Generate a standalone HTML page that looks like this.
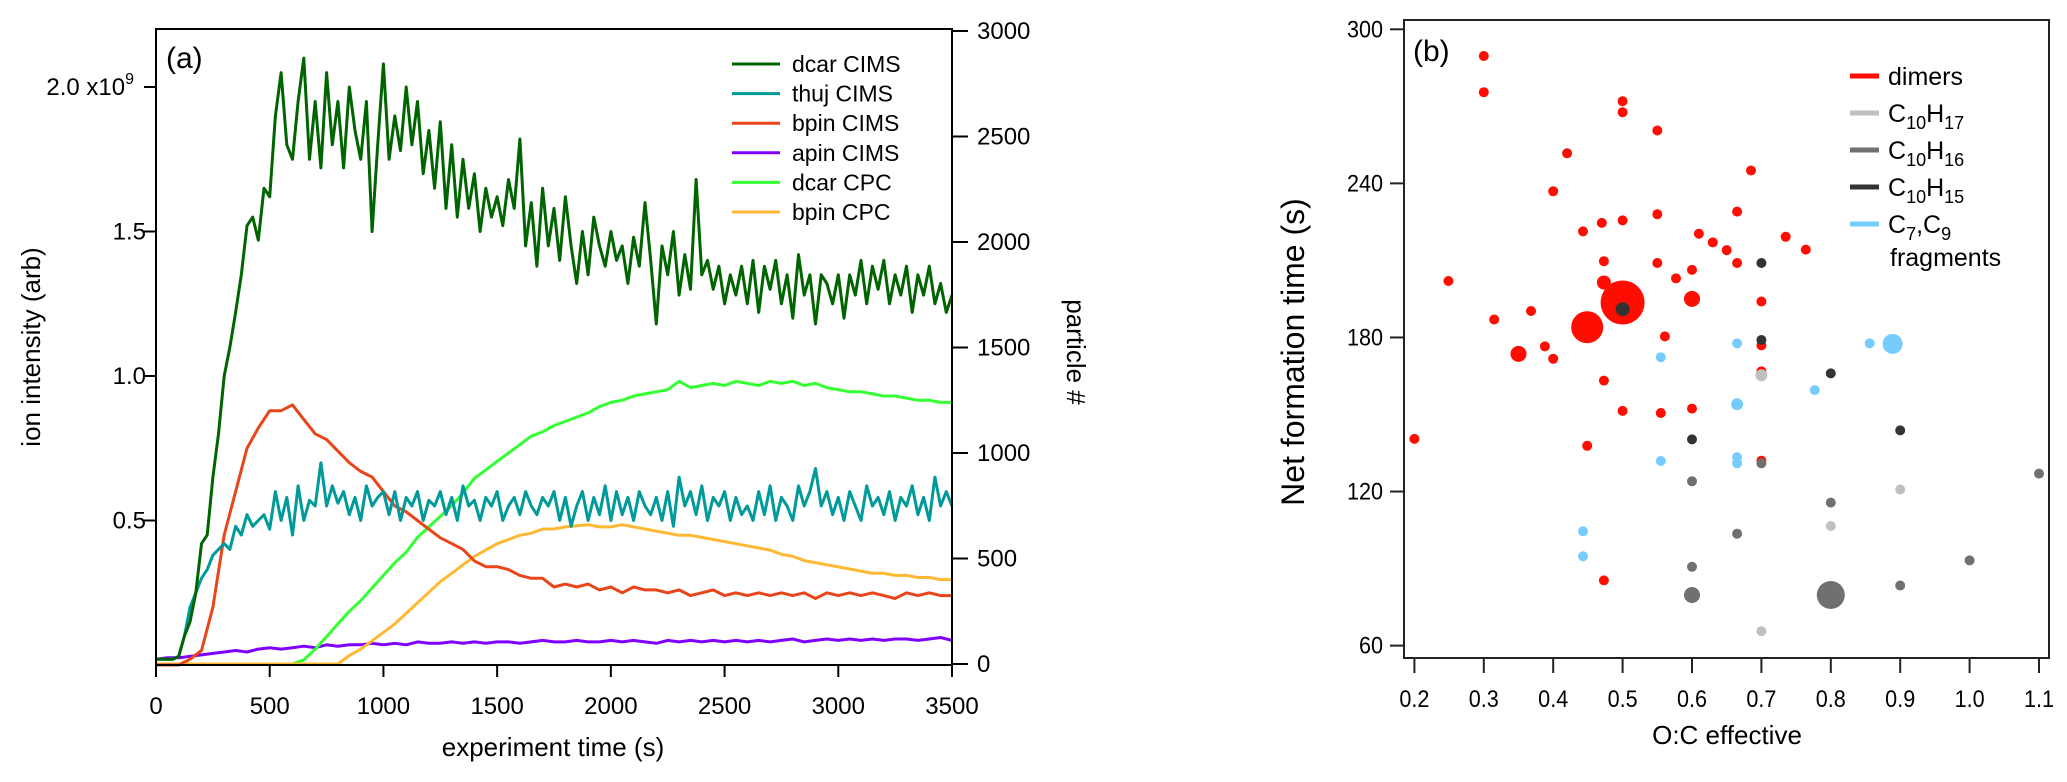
<!DOCTYPE html>
<html><head><meta charset="utf-8"><style>
html,body{margin:0;padding:0;background:#fff;}
svg{display:block;font-family:"Liberation Sans",sans-serif;}
</style></head><body>
<svg id="fig" width="2067" height="782" viewBox="0 0 2067 782" xmlns="http://www.w3.org/2000/svg">
<g id="pa"></g>
<g id="pb"></g>
</svg>
<script>
// ---------- Panel (a) data ----------
const stepFine = 25, stepCoarse = 50;
const dcarCims = [0.02,0.02,0.02,0.02,0.03,0.1,0.15,0.25,0.42,
0.45,0.65,0.8,1.0,1.1,1.22,1.35,1.52,1.55,1.47,1.65,1.62,1.9,2.05,1.8,1.75,1.95,2.1,1.75,1.95,1.72,2.05,1.8,1.95,1.72,2.0,1.85,1.75,1.95,1.5,1.8,2.08,1.75,1.9,1.78,2.0,1.8,1.95,1.7,1.85,1.65,1.88,1.58,1.8,1.55,1.75,1.58,1.7,1.5,1.65,1.55,1.62,1.52,1.68,1.58,1.82,1.45,1.6,1.38,1.65,1.45,1.58,1.4,1.62,1.45,1.32,1.5,1.35,1.55,1.45,1.38,1.5,1.4,1.45,1.32,1.48,1.38,1.6,1.4,1.18,1.45,1.35,1.5,1.28,1.42,1.3,1.68,1.35,1.4,1.3,1.38,1.25,1.35,1.28,1.38,1.25,1.4,1.22,1.38,1.3,1.4,1.25,1.35,1.2,1.42,1.28,1.35,1.18,1.35,1.32,1.25,1.35,1.2,1.35,1.28,1.4,1.25,1.38,1.3,1.4,1.25,1.35,1.28,1.38,1.22,1.35,1.28,1.38,1.25,1.32,1.22,1.28];
const thujCims = [0.02,0.02,0.02,0.02,0.03,0.1,0.2,0.25,0.3,0.33,0.38,0.4,0.42,0.4,0.48,0.45,0.52,0.48,0.5,0.52,0.47,0.6,0.5,0.58,0.45,0.62,0.5,0.57,0.55,0.7,0.55,0.62,0.56,0.6,0.52,0.58,0.5,0.62,0.55,0.58,0.6,0.52,0.6,0.5,0.58,0.55,0.6,0.5,0.57,0.55,0.6,0.52,0.58,0.5,0.62,0.55,0.57,0.5,0.58,0.55,0.6,0.5,0.55,0.58,0.52,0.6,0.55,0.52,0.58,0.55,0.6,0.5,0.58,0.48,0.55,0.6,0.5,0.58,0.52,0.62,0.5,0.6,0.52,0.58,0.5,0.6,0.55,0.52,0.58,0.5,0.6,0.48,0.65,0.55,0.6,0.52,0.62,0.5,0.58,0.55,0.6,0.5,0.58,0.52,0.55,0.5,0.6,0.52,0.62,0.5,0.58,0.55,0.5,0.62,0.55,0.6,0.68,0.55,0.6,0.52,0.58,0.5,0.6,0.55,0.5,0.62,0.55,0.58,0.52,0.6,0.5,0.58,0.55,0.62,0.52,0.58,0.5,0.65,0.55,0.6,0.55];
const bpinCims = [0,0,0,0.02,0.05,0.2,0.45,0.6,0.75,0.82,0.88,0.88,0.9,0.85,0.8,0.78,0.74,0.7,0.67,0.65,0.6,0.55,0.53,0.5,0.47,0.44,0.42,0.4,0.36,0.34,0.34,0.33,0.31,0.3,0.3,0.27,0.28,0.27,0.28,0.26,0.27,0.25,0.27,0.26,0.26,0.25,0.26,0.24,0.25,0.26,0.24,0.25,0.24,0.25,0.24,0.25,0.24,0.25,0.23,0.25,0.24,0.25,0.24,0.25,0.24,0.23,0.25,0.24,0.25,0.24,0.24];
const apinCims = [0.02,0.025,0.025,0.03,0.035,0.04,0.045,0.05,0.045,0.055,0.06,0.055,0.06,0.065,0.06,0.07,0.065,0.07,0.07,0.075,0.07,0.075,0.07,0.08,0.075,0.075,0.08,0.075,0.08,0.075,0.08,0.08,0.075,0.08,0.085,0.08,0.08,0.085,0.08,0.08,0.085,0.08,0.085,0.08,0.075,0.085,0.08,0.085,0.08,0.085,0.08,0.085,0.08,0.085,0.08,0.085,0.09,0.08,0.085,0.09,0.085,0.09,0.085,0.09,0.085,0.09,0.09,0.085,0.09,0.095,0.085];
const dcarCpc = [0,0,0,0,0,0,0,0,0,0,0,0,0,20,70,130,190,250,300,360,420,480,530,600,650,700,750,810,880,920,960,1000,1040,1080,1100,1130,1150,1170,1190,1220,1240,1250,1270,1280,1290,1300,1340,1310,1320,1330,1320,1340,1330,1320,1340,1330,1340,1320,1330,1310,1300,1290,1290,1280,1270,1270,1260,1250,1250,1240,1240];
const bpinCpc = [0,0,0,0,0,0,0,0,0,0,0,0,0,0,0,0,0,40,70,110,150,190,240,290,340,390,430,470,510,540,570,590,610,620,640,640,650,655,660,650,650,660,650,640,630,620,610,610,600,590,580,570,560,550,540,520,510,490,480,470,460,450,440,430,430,420,420,410,410,400,400];
const xTicksA = [0,500,1000,1500,2000,2500,3000,3500];
const yTicksL = [0.5,1.0,1.5,2.0];
const yTicksR = [0,500,1000,1500,2000,2500,3000];
const legendA = ["dcar CIMS","thuj CIMS","bpin CIMS","apin CIMS","dcar CPC","bpin CPC"];

// ---------- Panel (b) data ----------
const ocRed = [0.3,0.3,0.5,0.5,0.55,0.42,0.685,0.4,0.665,0.55,0.5,0.47,0.443,0.61,0.63,0.65,0.735,0.764,0.473,0.55,0.665,0.6,0.577,0.249,0.473,0.6,0.5,0.7,0.315,0.368,0.449,0.561,0.7,0.388,0.35,0.4,0.473,0.7,0.5,0.555,0.6,0.2,0.449,0.7,0.473];
const tRed = [289.6,275.5,272,267.7,260.6,251.7,245,236.9,229,228,225.6,224.6,221.3,220.4,217,214,219.2,214.2,209.7,209,209,206.3,203,202,201.4,195,193.6,194,187,190.3,184,180.4,176.9,176.5,173.6,171.7,163.2,166.8,151.4,150.6,152.3,140.5,137.8,132,85.4];
const rRed = [5,5,5,5,5,5,5,5,5,5,5,5,5,5,5,5,5,5,5,5,5,5,5,5,7,8,22,5,5,5,16,5,5,5,8,5,5,5,5,5,5,5,5,5,5];
const ocH17 = [0.7,0.9,0.8,0.7];
const tH17 = [165.3,120.8,106.6,65.6];
const rH17 = [6,5,5,5];
const ocH16 = [0.6,0.7,0.8,0.665,0.6,1.0,0.9,0.6,0.8,1.1];
const tH16 = [124,131,115.7,103.6,90.7,93.2,83.4,79.7,79.7,127];
const rH16 = [5,5,5,5,5,5,5,8,14,5];
const ocH15 = [0.7,0.5,0.7,0.8,0.6,0.9];
const tH15 = [209,191,179,166,140.3,143.8];
const rH15 = [5,7,5,5,5,5];
const ocFrag = [0.665,0.555,0.856,0.889,0.777,0.665,0.555,0.665,0.665,0.443,0.443];
const tFrag = [177.7,172.3,177.7,177.5,159.5,154,131.9,133.4,131,104.5,94.8];
const rFrag = [5,5,5,10,5,6,5,5,5,5,5];
const xTicksB = [0.2,0.3,0.4,0.5,0.6,0.7,0.8,0.9,1.0,1.1];
const yTicksB = [60,120,180,240,300];

const NS = "http://www.w3.org/2000/svg";
function mk(parent, tag, attrs, text){
  const e = document.createElementNS(NS, tag);
  for (const k in attrs) e.setAttribute(k, attrs[k]);
  if (text !== undefined) e.textContent = text;
  parent.appendChild(e);
  return e;
}

// ---------- Panel (a) ----------
const pa = document.getElementById('pa');
const AL = 156, AR = 952, AT = 29, AB = 665;
const xA = t => AL + t * (AR - AL) / 3500;
const yL = v => 665 - v * 289;
const yR = v => 664 - v * 0.211;

function series(arr, step, yf, color, name){
  let d = "";
  arr.forEach((v,i)=>{ d += (i? "L":"M") + xA(i*step).toFixed(1) + "," + yf(v).toFixed(1); });
  const p = mk(pa, 'path', {d:d, fill:'none', stroke:color, 'stroke-width':3, 'stroke-linejoin':'round'});
  
  
}
series(apinCims, stepCoarse, yL, '#7f00ff', 'apin-cims-line');
series(dcarCpc, stepCoarse, yR, '#33ff33', 'dcar-cpc-line');
series(bpinCpc, stepCoarse, yR, '#ffb833', 'bpin-cpc-line');
series(bpinCims, stepCoarse, yL, '#e8461a', 'bpin-cims-line');
series(thujCims, stepFine, yL, '#009a9a', 'thuj-cims-line');
series(dcarCims, stepFine, yL, '#006400', 'dcar-cims-line');

const frameA = mk(pa,'path',{d:`M${AL},${AT}H${AR}V${AB}H${AL}Z`,fill:'none',stroke:'#000','stroke-width':2});



xTicksA.forEach(t=>{
  mk(pa,'line',{x1:xA(t),x2:xA(t),y1:AB,y2:AB+12,stroke:'#000','stroke-width':2});
  const lb = mk(pa,'text',{x:xA(t),y:714,'font-size':24,'text-anchor':'middle'}, String(t));
  
  
});
yTicksL.forEach(v=>{
  mk(pa,'line',{x1:AL-12,x2:AL,y1:yL(v),y2:yL(v),stroke:'#000','stroke-width':2});
  if (v === 2.0) {
    const lb = mk(pa,'text',{x:AL-22,y:yL(v)+8,'font-size':24,'text-anchor':'end'});
    lb.innerHTML = v.toFixed(1) + ' x10<tspan dy="-11" font-size="16">9</tspan>';
    
    
  } else {
    const lb = mk(pa,'text',{x:AL-10,y:yL(v)+8,'font-size':24,'text-anchor':'end'}, v.toFixed(1));
    
    
  }
});
yTicksR.forEach(v=>{
  mk(pa,'line',{x1:AR,x2:AR+16,y1:yR(v),y2:yR(v),stroke:'#000','stroke-width':2});
  const lb = mk(pa,'text',{x:977,y:yR(v)+8,'font-size':24,'text-anchor':'start'}, String(v));
  
  
});
const colorsA = ['#006400','#009a9a','#e8461a','#7f00ff','#33ff33','#ffb833'];
legendA.forEach((s,i)=>{
  const y = 64 + i*29.6;
  const ln = mk(pa,'line',{x1:732,x2:780,y1:y,y2:y,stroke:colorsA[i],'stroke-width':3});
  
  
  const tx = mk(pa,'text',{x:792,y:y+8,'font-size':23}, s);
  
  
});
const la = mk(pa,'text',{x:166,y:68,'font-size':30},'(a)');
 
const xt = mk(pa,'text',{x:553,y:756,'font-size':26,'text-anchor':'middle'},'experiment time (s)');
 
const ylt = mk(pa,'text',{x:0,y:0,'font-size':26,'text-anchor':'middle',transform:'translate(40,347) rotate(-90)'},'ion intensity (arb)');
 
const yrt = mk(pa,'text',{x:0,y:0,'font-size':26,'text-anchor':'middle',transform:'translate(1067,352) rotate(90)'},'particle #');
 

// ---------- Panel (b) ----------
const pb = document.getElementById('pb');
const BL = 1404, BR = 2049, BT = 20, BB = 658;
const xB = v => 1414.4 + (v - 0.2) * 694;
const yB = v => 29.3 + (300 - v) * 2.568;

function dots(oc, tt, rr, color, name){
  oc.forEach((x,i)=>{
    const c = mk(pb,'circle',{cx:xB(x).toFixed(1),cy:yB(tt[i]).toFixed(1),r:rr[i],fill:color});
    
    
  });
}
dots(ocRed,tRed,rRed,'#ff0d00','dimer-point');
dots(ocH17,tH17,rH17,'#c0c0c0','c10h17-point');
dots(ocH16,tH16,rH16,'#707070','c10h16-point');
dots(ocH15,tH15,rH15,'#333333','c10h15-point');
dots(ocFrag,tFrag,rFrag,'#77ccff','fragment-point');

const frameB = mk(pb,'path',{d:`M${BL},${BT}H${BR}V${BB}H${BL}Z`,fill:'none',stroke:'#222','stroke-width':2});


xTicksB.forEach(v=>{
  mk(pb,'line',{x1:xB(v),x2:xB(v),y1:BB,y2:BB+15,stroke:'#222','stroke-width':2});
  const lb = mk(pb,'text',{x:xB(v),y:707,'font-size':24,'text-anchor':'middle',transform:`translate(${xB(v)*0.1},0) scale(0.9,1)`}, v.toFixed(1));
  
  
});
yTicksB.forEach(v=>{
  mk(pb,'line',{x1:BL-14,x2:BL,y1:yB(v),y2:yB(v),stroke:'#222','stroke-width':2});
  const lb = mk(pb,'text',{x:1383,y:yB(v)+8,'font-size':24,'text-anchor':'end',transform:`translate(${1383*0.1},0) scale(0.9,1)`}, String(v));
  
  
});
const legB = [['dimers','#ff0d00'],['C<tspan dy="7" font-size="18">10</tspan><tspan dy="-7">H</tspan><tspan dy="7" font-size="18">17</tspan>','#c0c0c0'],['C<tspan dy="7" font-size="18">10</tspan><tspan dy="-7">H</tspan><tspan dy="7" font-size="18">16</tspan>','#707070'],['C<tspan dy="7" font-size="18">10</tspan><tspan dy="-7">H</tspan><tspan dy="7" font-size="18">15</tspan>','#333333'],['C<tspan dy="7" font-size="18">7</tspan><tspan dy="-7">,C</tspan><tspan dy="7" font-size="18">9</tspan>','#77ccff']];
legB.forEach((e,i)=>{
  const y = 76 + i*37;
  const ln = mk(pb,'line',{x1:1850,x2:1879,y1:y,y2:y,stroke:e[1],'stroke-width':5});
  
  
  const tx = mk(pb,'text',{x:1888,y:y+9,'font-size':25});
  tx.innerHTML = e[0];
  
  
});
const fr = mk(pb,'text',{x:1890,y:266,'font-size':25},'fragments');
 
const lbb = mk(pb,'text',{x:1413,y:61,'font-size':30},'(b)');
 
const xbt = mk(pb,'text',{x:1727,y:744,'font-size':26,'text-anchor':'middle'},'O:C effective');
 
const ybt = mk(pb,'text',{x:0,y:0,'font-size':32,'text-anchor':'middle',transform:'translate(1304,352) rotate(-90)'},'Net formation time (s)');
 
</script>
</body></html>
